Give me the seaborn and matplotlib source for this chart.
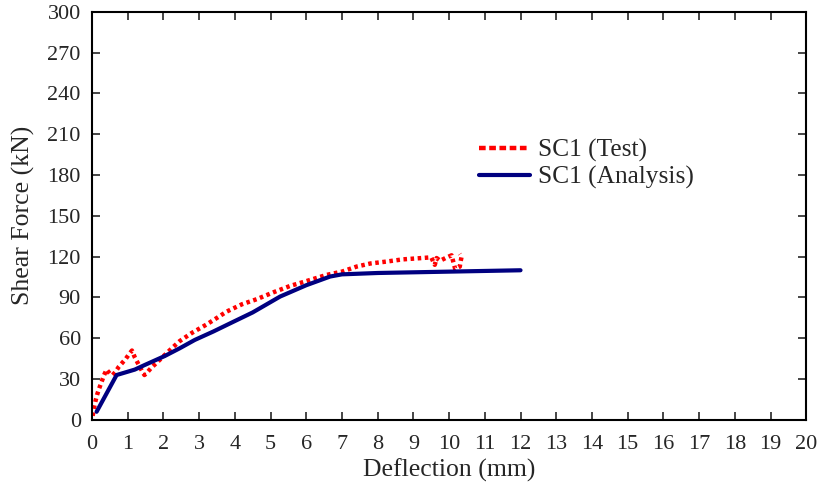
import pandas as pd
import matplotlib
matplotlib.use("Agg")
import matplotlib.pyplot as plt
import seaborn as sns

# Test curve
test_defl = [0.02, 0.06, 0.1, 0.15, 0.2, 0.27, 0.34, 0.41, 0.5, 0.58, 0.65, 0.75, 0.85,
             0.95, 1.03, 1.12, 1.2, 1.3, 1.4, 1.47, 1.55, 1.65, 1.85, 2.05, 2.25, 2.46,
             2.8, 3.2, 3.5, 3.77, 4.2, 4.61, 5.1, 5.55, 6.0, 6.57, 7.0, 7.41, 7.8, 8.25,
             8.7, 9.19, 9.5, 9.6, 9.65, 9.75, 9.9, 10.07, 10.17, 10.3, 10.32, 10.35, 10.3]
test_force = [3, 9, 14, 19, 23, 28, 33, 37, 34, 33, 35, 39, 42,
              45, 48, 51, 46, 41, 36, 33, 35, 38, 43, 48, 53, 58,
              64, 70, 75, 79.6, 85, 88.7, 94, 98.5, 102, 106.6, 109, 112.7, 115, 116.4,
              118, 118.9, 119.5, 114, 119, 117, 119, 121, 111, 112.7, 116, 120, 122]

# Analysis curve
ana_defl = [0.13, 0.69, 0.92, 1.2, 1.48, 2.04, 2.46, 2.88, 3.4, 3.87, 4.5, 5.27, 6.0,
            6.67, 7.0, 8.0, 9.0, 10.0, 11.0, 12.0]
ana_force = [6, 33, 34.8, 37, 40.4, 47, 52.7, 58.8, 65, 71, 79, 90.7, 99,
             105.4, 107, 108, 108.5, 109, 109.5, 110]

x_ticks = list(range(0, 21))
y_ticks = list(range(0, 301, 30))

sns.set_style("ticks")
plt.rcParams['font.family'] = ['Liberation Serif', 'DejaVu Serif']

fig = plt.figure(figsize=(8.21, 4.9), dpi=100)
ax = fig.add_axes([0.112, 0.143, 0.870, 0.833])

test_df = pd.DataFrame({"x": test_defl, "y": test_force})
ana_df = pd.DataFrame({"x": ana_defl, "y": ana_force})

sns.lineplot(data=test_df, x="x", y="y", sort=False, estimator=None, ax=ax,
             color="#ff0000", linewidth=3.2, linestyle=(0, (0.8, 0.8)),
             label="SC1 (Test)")
sns.lineplot(data=ana_df, x="x", y="y", sort=False, estimator=None, ax=ax,
             color="#000080", linewidth=3.0, label="SC1 (Analysis)")

ax.set_xlim(0, 20)
ax.set_ylim(0, 300)
ax.set_xticks(x_ticks)
ax.set_yticks(y_ticks)
ax.tick_params(direction="in", length=6, width=1.2, top=True, right=True,
               labelsize=16)
ax.tick_params(axis="x", pad=11)
ax.tick_params(axis="y", pad=8)
for sp in ax.spines.values():
    sp.set_linewidth(1.5)
    sp.set_color("black")

ax.set_xlabel("Deflection (mm)", fontsize=18.5, labelpad=3)
ax.set_ylabel("Shear Force (kN)", fontsize=18.5, labelpad=9)

leg = ax.legend(loc="upper left", bbox_to_anchor=(0.51, 0.745), frameon=False,
                fontsize=18.3, handlelength=2.0, handletextpad=0.3, labelspacing=0.15)
leg.get_lines()[0].set_linestyle((0, (1.5, 0.8)))

fig.savefig("out.png", dpi=100)
